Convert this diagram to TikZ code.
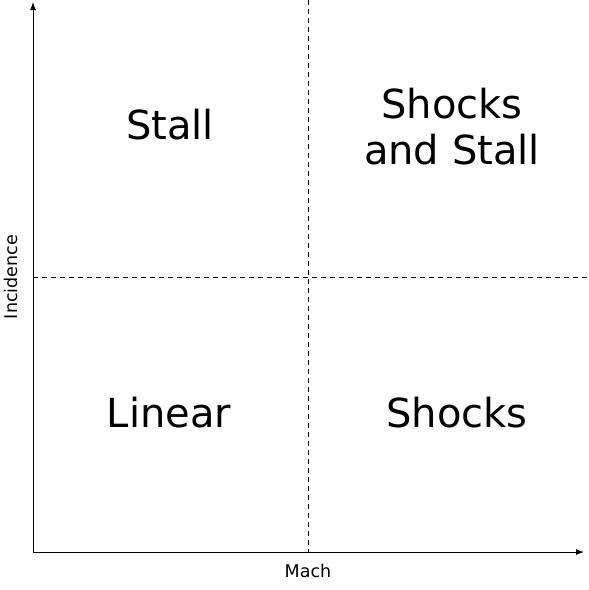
\documentclass[tikz,border=0pt]{standalone}
\usepackage{fontspec}
\setmainfont{DejaVu Sans}
\usetikzlibrary{arrows.meta}
\begin{document}
\begin{tikzpicture}[x=1pt,y=-1pt,
  axis/.style={line width=1pt,-{Latex[length=8pt,width=6pt]}},
  guide/.style={line width=0.9pt,dash pattern=on 5pt off 4pt},
  region/.style={font=\fontsize{40}{46}\selectfont,align=center,inner sep=0pt},
  axlabel/.style={font=\fontsize{17.5}{20}\selectfont,inner sep=0pt}]
\useasboundingbox (0,0) rectangle (589,590);
\coordinate (o) at (33,552);
\coordinate (xend) at (584,552);
\coordinate (yend) at (33,2);
\coordinate (vtop) at (308,0);
\coordinate (vbot) at (308,552);
\coordinate (hl) at (33,277);
\coordinate (hr) at (589,277);
\draw[guide] (vtop) -- (vbot);
\draw[guide] (hl) -- (hr);
\draw[axis] (o) -- (xend);
\draw[axis] (o) -- (yend);
\node[region,anchor=base] (stall) at (170,139) {Stall};
\node[region,anchor=center] (ss) at (452,127) {Shocks\\and Stall};
\node[region,anchor=base] (lin) at (169,427) {Linear};
\node[region,anchor=base] (sh) at (457,427) {Shocks};
\node[axlabel,anchor=base] (mach) at (308,577) {Mach};
\node[axlabel,anchor=base,rotate=90] (inc) at (17,277) {Incidence};
\end{tikzpicture}
\end{document}
